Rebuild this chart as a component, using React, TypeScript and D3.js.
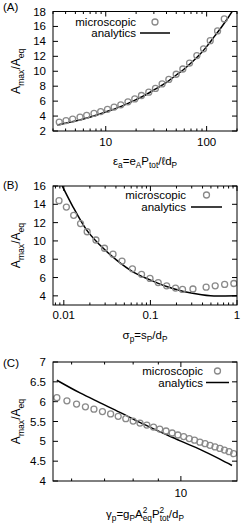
import React from 'react';
import * as d3 from 'd3';

// ---- panel (A) ----
const aMicroX = [3.46, 4.04, 4.7, 5.56, 6.47, 7.65, 8.91, 10.4, 12.1, 14.1, 16.6, 19.4, 22.6, 26.7, 31.1, 36.2, 42.2, 49.9, 58.1, 67.7, 80, 93.2, 108.6, 128.3, 149.6];
const aMicroY = [3.2, 3.4, 3.6, 3.85, 4.1, 4.35, 4.6, 4.9, 5.2, 5.5, 5.9, 6.3, 6.75, 7.2, 7.7, 8.3, 8.9, 9.6, 10.3, 11.1, 12.1, 13.0, 14.1, 15.4, 17.0];
const aTheoryX = [3.3, 4, 5, 6, 8, 10, 13, 16, 20, 25, 30, 40, 50, 60, 70, 85, 100, 120, 140, 160, 185];
const aTheoryY = [2.8, 3.05, 3.35, 3.62, 4.1, 4.55, 5.1, 5.6, 6.2, 6.85, 7.5, 8.5, 9.5, 10.3, 11.1, 12.2, 13.3, 14.7, 15.9, 17.0, 18.3];
const aXMajor = [10, 100];
const aXMinor = [3, 4, 5, 6, 7, 8, 9, 20, 30, 40, 50, 60, 70, 80, 90, 200];
const aYTicks = [2, 4, 6, 8, 10, 12, 14, 16, 18];

// ---- panel (B) ----
const bMicroX = [0.0088, 0.0107, 0.013, 0.0156, 0.0186, 0.0235, 0.0295, 0.037, 0.047, 0.062, 0.079, 0.099, 0.123, 0.154, 0.195, 0.235, 0.31, 0.44, 0.56, 0.72, 0.92];
const bMicroY = [14.4, 13.7, 12.8, 11.9, 11.0, 10.1, 9.2, 8.55, 7.8, 6.95, 6.35, 5.9, 5.45, 5.1, 4.85, 4.7, 4.75, 4.95, 5.1, 5.25, 5.35];
const bTheoryX = [0.0096, 0.0128, 0.0183, 0.0261, 0.0407, 0.0634, 0.099, 0.154, 0.241, 0.375, 0.584, 1];
const bTheoryY = [16, 13.7, 11.2, 9.55, 7.9, 6.6, 5.75, 5.02, 4.48, 4.15, 3.97, 4.0];
const bXMajor = [0.01, 0.1, 1];
const bXMinor = [0.008, 0.009, 0.02, 0.03, 0.04, 0.05, 0.06, 0.07, 0.08, 0.09, 0.2, 0.3, 0.4, 0.5, 0.6, 0.7, 0.8, 0.9];
const bYTicks = [4, 6, 8, 10, 12, 14, 16];

// ---- panel (C) ----
const cMicroX = [5.6, 5.87, 6.14, 6.4, 6.66, 6.93, 7.2, 7.46, 7.73, 8.0, 8.26, 8.53, 8.8, 9.06, 9.33, 9.6, 9.86, 10.13, 10.4, 10.66, 10.93, 11.2, 11.46, 11.73, 12.0, 12.26, 12.53, 12.8];
const cMicroY = [6.1, 6.02, 5.94, 5.87, 5.81, 5.75, 5.69, 5.63, 5.57, 5.51, 5.46, 5.41, 5.36, 5.31, 5.26, 5.21, 5.16, 5.12, 5.07, 5.03, 4.98, 4.94, 4.9, 4.86, 4.82, 4.78, 4.74, 4.69];
const cTheoryX = [5.6, 6.24, 6.86, 7.52, 8.27, 9.08, 9.97, 10.96, 12.0, 12.7];
const cTheoryY = [6.54, 6.22, 5.97, 5.73, 5.47, 5.24, 5.01, 4.79, 4.55, 4.39];
const cXMajor = [10];
const cXMinor = [6, 7, 8, 9];
const cYTicks = [4, 4.5, 5, 5.5, 6, 6.5, 7];

const FONT = 'Liberation Sans, Arial, Helvetica, sans-serif';
const FS = 11.5;
const L = 53;
const R = 237;

type Seg = { t: string; k?: 'sub' | 'sup'; back?: number };

function rich(segs: Seg[], fs: number) {
  let cur = 0;
  return segs.map((s, i) => {
    const target = s.k === 'sub' ? 0.3 * fs : s.k === 'sup' ? -0.42 * fs : 0;
    const dy = target - cur;
    cur = target;
    return (
      <tspan key={i} dy={dy || undefined} dx={s.back ? -s.back : undefined} fontSize={s.k ? fs * 0.72 : fs}>
        {s.t}
      </tspan>
    );
  });
}

const yLabel: Seg[] = [{ t: 'A' }, { t: 'max', k: 'sub' }, { t: '/A' }, { t: 'eq', k: 'sub' }];

const panels = [
  {
    id: 'A', top: 11.5, bottom: 131, xDomain: [3, 200], yDomain: [2, 18],
    microX: aMicroX, microY: aMicroY, theoryX: aTheoryX, theoryY: aTheoryY,
    xMajor: aXMajor, xMinor: aXMinor, yTicks: aYTicks, fmt: (v: number) => String(v),
    tag: 11, tickY: 146, xlabY: 165,
    xlab: [{ t: 'ε' }, { t: 'a', k: 'sub' }, { t: '=e' }, { t: 'A', k: 'sub' }, { t: 'P' }, { t: 'tot', k: 'sub' }, { t: '/ℓd' }, { t: 'P', k: 'sub' }] as Seg[],
    leg: { textEnd: 136, y1: 22, y2: 33, s0: 140, s1: 170 },
  },
  {
    id: 'B', top: 186, bottom: 305, xDomain: [0.0075, 1], yDomain: [3, 16],
    microX: bMicroX, microY: bMicroY, theoryX: bTheoryX, theoryY: bTheoryY,
    xMajor: bXMajor, xMinor: bXMinor, yTicks: bYTicks, fmt: (v: number) => String(v),
    tag: 189, tickY: 319, xlabY: 339,
    xlab: [{ t: 'σ' }, { t: 'p', k: 'sub' }, { t: '=s' }, { t: 'P', k: 'sub' }, { t: '/d' }, { t: 'P', k: 'sub' }] as Seg[],
    leg: { textEnd: 186, y1: 195, y2: 207, s0: 191, s1: 222 },
  },
  {
    id: 'C', top: 362, bottom: 481, xDomain: [5.5, 13], yDomain: [4, 7],
    microX: cMicroX, microY: cMicroY, theoryX: cTheoryX, theoryY: cTheoryY,
    xMajor: cXMajor, xMinor: cXMinor, yTicks: cYTicks, fmt: (v: number) => String(v),
    tag: 367, tickY: 497, xlabY: 518,
    xlab: [{ t: 'γ' }, { t: 'p', k: 'sub' }, { t: '=g' }, { t: 'P', k: 'sub' }, { t: 'A' }, { t: '2', k: 'sup' }, { t: 'eq', k: 'sub', back: 4.6 }, { t: 'P' }, { t: '2', k: 'sup' }, { t: 'tot', k: 'sub', back: 4.6 }, { t: '/d' }, { t: 'P', k: 'sub' }] as Seg[],
    leg: { textEnd: 203, y1: 371, y2: 382.5, s0: 206, s1: 229 },
  },
];

function Panel({ p }: { p: (typeof panels)[number] }) {
  const x = d3.scaleLog().domain(p.xDomain).range([L, R]);
  const y = d3.scaleLinear().domain(p.yDomain).range([p.bottom, p.top]);
  const line = d3.line<[number, number]>().x(d => x(d[0])).y(d => y(d[1])).curve(d3.curveMonotoneX);
  const theory = p.theoryX.map((v, i) => [v, p.theoryY[i]] as [number, number]);
  const clip = `clip${p.id}`;
  const major = 5;
  const minor = 2.5;
  const circle = (cx: number, cy: number, k: string | number) => (
    <circle key={k} cx={cx} cy={cy} r={3} fill="none" stroke="#8a8a8a" strokeWidth={1.3} />
  );
  return (
    <g fontFamily={FONT} fontSize={FS} fill="#000">
      <defs>
        <clipPath id={clip}>
          <rect x={L} y={p.top} width={R - L} height={p.bottom - p.top} />
        </clipPath>
      </defs>
      <text x={3} y={p.tag}>({p.id})</text>
      {/* y ticks */}
      {p.yTicks.map(v => (
        <g key={v}>
          <line x1={L} x2={L + major} y1={y(v)} y2={y(v)} stroke="#000" />
          <line x1={R} x2={R - major} y1={y(v)} y2={y(v)} stroke="#000" />
          <text x={46} y={y(v) + 4} textAnchor="end">{p.fmt(v)}</text>
        </g>
      ))}
      {/* x ticks */}
      {p.xMajor.map(v => (
        <g key={v}>
          <line x1={x(v)} x2={x(v)} y1={p.bottom} y2={p.bottom - major} stroke="#000" />
          <line x1={x(v)} x2={x(v)} y1={p.top} y2={p.top + major} stroke="#000" />
          <text x={x(v)} y={p.tickY} textAnchor="middle">{p.fmt(v)}</text>
        </g>
      ))}
      {p.xMinor.map(v => (
        <g key={v}>
          <line x1={x(v)} x2={x(v)} y1={p.bottom} y2={p.bottom - minor} stroke="#000" />
          <line x1={x(v)} x2={x(v)} y1={p.top} y2={p.top + minor} stroke="#000" />
        </g>
      ))}
      <g clipPath={`url(#${clip})`}>
        <path d={line(theory) ?? ''} fill="none" stroke="#000" strokeWidth={1.5} />
        {p.microX.map((v, i) => circle(x(v), y(p.microY[i]), i))}
      </g>
      <rect x={L} y={p.top} width={R - L} height={p.bottom - p.top} fill="none" stroke="#000" strokeWidth={1} />
      {/* legend */}
      <text x={p.leg.textEnd} y={p.leg.y1 + 4} textAnchor="end">microscopic</text>
      {circle((p.leg.s0 + p.leg.s1) / 2, p.leg.y1, 'leg')}
      <text x={p.leg.textEnd} y={p.leg.y2 + 4} textAnchor="end">analytics</text>
      <line x1={p.leg.s0} x2={p.leg.s1} y1={p.leg.y2} y2={p.leg.y2} stroke="#000" strokeWidth={1.5} />
      {/* axis labels */}
      <text x={(L + R) / 2} y={p.xlabY} textAnchor="middle">{rich(p.xlab, FS)}</text>
      <text transform={`translate(20,${(p.top + p.bottom) / 2}) rotate(-90)`} textAnchor="middle">{rich(yLabel, 12)}</text>
    </g>
  );
}

export default function App() {
  return (
    <div style={{ position: 'absolute', left: 0, top: 0 }}>
      <svg width={250} height={525} style={{ display: 'block', background: '#fff' }}>
        {panels.map(p => <Panel key={p.id} p={p} />)}
      </svg>
    </div>
  );
}
